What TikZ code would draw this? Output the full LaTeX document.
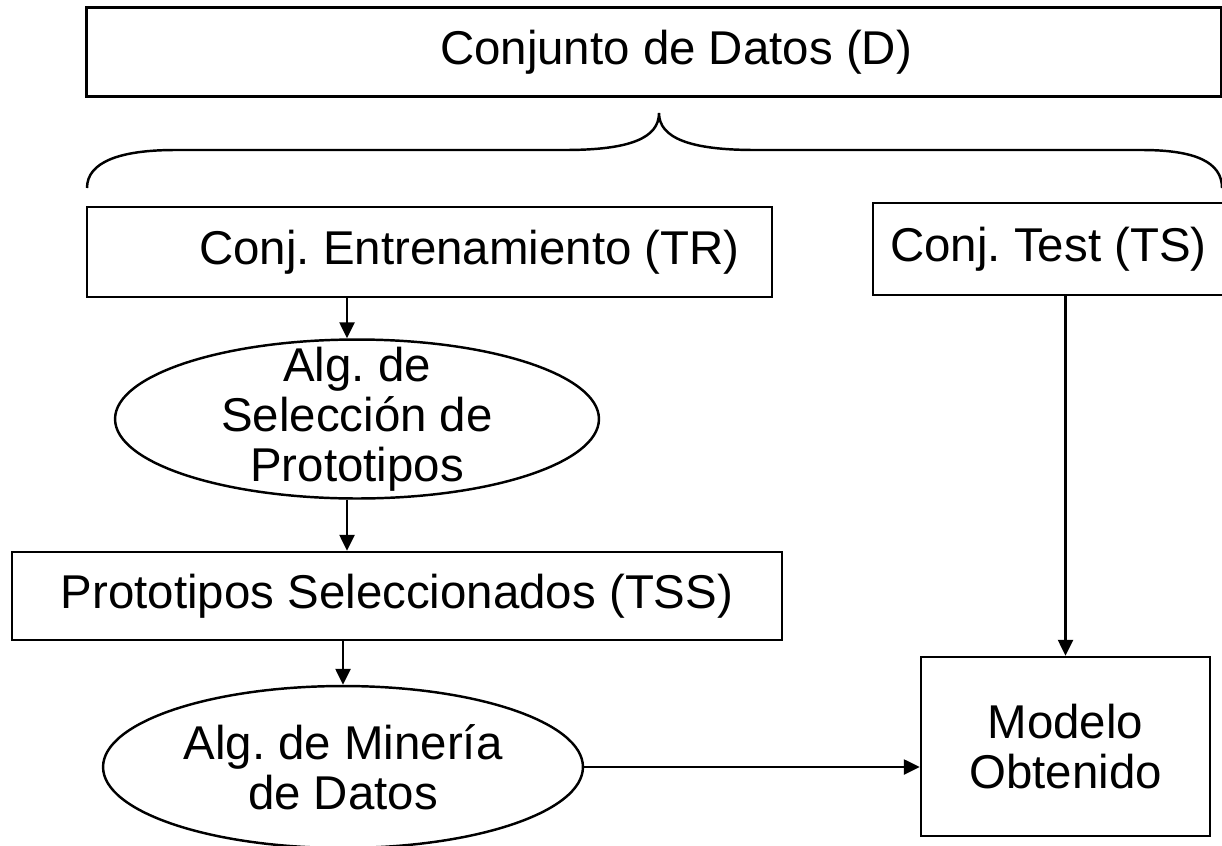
\documentclass[tikz,border=0pt]{standalone}
\usepackage{fontspec}
\setmainfont{Liberation Sans}
\usetikzlibrary{arrows.meta,shapes.geometric}
\frenchspacing
\begin{document}
\begin{tikzpicture}[x=0.02cm, y=-0.02cm, line width=1.4pt,
    >={Triangle[length=0.32cm,width=0.3cm]},
    caja/.style={draw, rectangle, inner sep=0pt, align=center},
    elipse/.style={draw, ellipse, inner sep=0pt},
    every node/.style={font=\fontsize{27}{28.5}\selectfont},
    every label/.style={align=center}]
    \useasboundingbox (0,0) rectangle (1222,845);
    % conjunto de datos
    \node[caja, minimum width=22.7cm, minimum height=1.78cm,
        label={[xshift=0.44cm]center:Conjunto de Datos (D)}] (datos) at (654,52) {};
    % llave
    \draw (87,188) .. controls (87,162) and (120,150) .. (175,150) -- (565,150)
        .. controls (630,150) and (659,138) .. (659,113)
        .. controls (659,138) and (690,150) .. (755,150) -- (1142,150)
        .. controls (1195,150) and (1222,162) .. (1222,188);
    % particiones
    \node[caja, minimum width=13.7cm, minimum height=1.8cm,
        label={[xshift=0.8cm]center:Conj. Entrenamiento (TR)}] (entren) at (429.5,252) {};
    \node[caja, minimum width=7.02cm, minimum height=1.84cm] (test) at (1048.5,249) {Conj. Test (TS)};
    % seleccion
    \node[elipse, minimum width=9.68cm, minimum height=3.18cm,
        label=center:{Alg. de\\Selección de\\Prototipos}] (selec) at (357,419) {};
    \node[caja, minimum width=15.4cm, minimum height=1.76cm] (tss) at (397,596) {Prototipos Seleccionados (TSS)};
    % mineria
    \node[elipse, minimum width=9.6cm, minimum height=3.24cm,
        label=center:{Alg. de Minería\\de Datos}] (mineria) at (343,767) {};
    \node[caja, minimum width=5.78cm, minimum height=3.58cm] (modelo) at (1065.5,746.5) {Modelo\\Obtenido};
    % flechas
    \draw[->] ([xshift=-0.2cm]entren.south -| selec.north) -- ([xshift=-0.2cm]selec.north);
    \draw[->] ([xshift=-0.2cm]selec.south) -- ([xshift=-0.2cm]selec.south |- tss.north);
    \draw[->] (tss.south -| mineria.north) -- (mineria.north);
    \draw[->] (mineria.east) -- (mineria.east -| modelo.west);
    \draw[->] (test.south -| modelo.north) -- (modelo.north);
\end{tikzpicture}
\end{document}
